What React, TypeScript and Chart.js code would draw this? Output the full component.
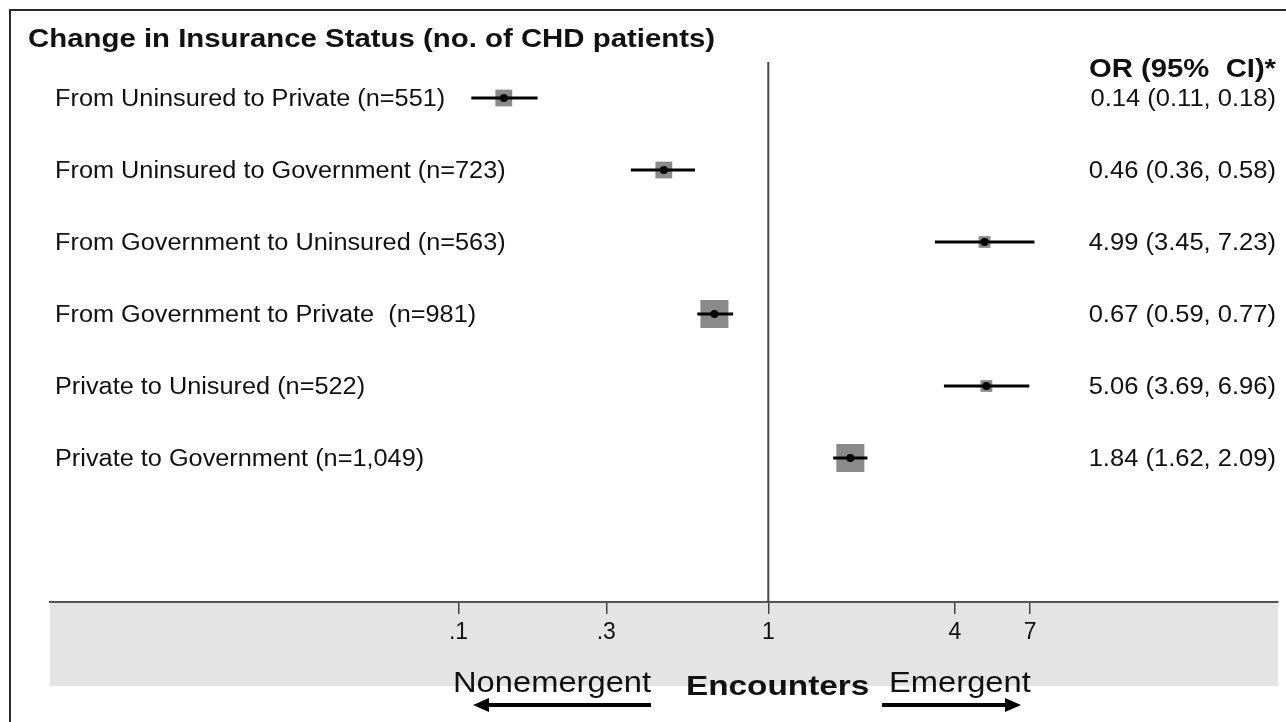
import React, { useEffect, useRef } from "react";
import { Chart, registerables } from "chart.js";

Chart.register(...registerables);

// ---------------- data ----------------
const categories = [
  "From Uninsured to Private (n=551)",
  "From Uninsured to Government (n=723)",
  "From Government to Uninsured (n=563)",
  "From Government to Private  (n=981)",
  "Private to Unisured (n=522)",
  "Private to Government (n=1,049)",
];
const oddsRatios = [0.14, 0.46, 4.99, 0.67, 5.06, 1.84];
const ciLower = [0.11, 0.36, 3.45, 0.59, 3.69, 1.62];
const ciUpper = [0.18, 0.58, 7.23, 0.77, 6.96, 2.09];
// relative weight of each estimate (drives the box size)
const boxWeights = [0.6, 0.6, 0.42, 1.0, 0.42, 1.0];
const orLabels = [
  "0.14 (0.11, 0.18)",
  "0.46 (0.36, 0.58)",
  "4.99 (3.45, 7.23)",
  "0.67 (0.59, 0.77)",
  "5.06 (3.69, 6.96)",
  "1.84 (1.62, 2.09)",
];
const xTickValues = [0.1, 0.3, 1, 4, 7];
const xTickLabels = [".1", ".3", "1", "4", "7"];
const titleText = "Change in Insurance Status (no. of CHD patients)";
const orHeader = "OR (95%  CI)*";
const leftDirection = "Nonemergent";
const centerCaption = "Encounters";
const rightDirection = "Emergent";

const X_MIN = 0.0048;
const X_MAX = 44.2;
const FONT = '"Liberation Sans", Arial, Helvetica, sans-serif';

function drawText(
  ctx: CanvasRenderingContext2D,
  text: string,
  x: number,
  y: number,
  font: string,
  align: CanvasTextAlign,
  sx = 1,
  color = "#111"
) {
  ctx.save();
  ctx.font = font;
  ctx.fillStyle = color;
  ctx.textBaseline = "middle";
  ctx.textAlign = align;
  ctx.translate(x, y);
  ctx.scale(sx, 1);
  ctx.fillText(text, 0, 0);
  ctx.restore();
}

const decorPlugin = {
  id: "forestDecor",
  beforeDraw(chart: any) {
    const { ctx, chartArea } = chart;
    ctx.save();
    ctx.fillStyle = "#ffffff";
    ctx.fillRect(0, 0, chart.width, chart.height);
    ctx.fillStyle = "#e4e4e4";
    ctx.fillRect(chartArea.left, chartArea.bottom, chartArea.right - chartArea.left, 84);
    ctx.restore();
  },
  beforeDatasetsDraw(chart: any) {
    const { ctx, chartArea, scales } = chart;
    const x1 = scales.x.getPixelForValue(1);
    ctx.save();
    ctx.strokeStyle = "#444";
    ctx.lineWidth = 2;
    ctx.beginPath();
    ctx.moveTo(x1, chartArea.top);
    ctx.lineTo(x1, chartArea.bottom);
    ctx.stroke();
    ctx.restore();
  },
  afterDraw(chart: any) {
    const { ctx, scales } = chart;
    // frame
    ctx.save();
    ctx.fillStyle = "#2a2a2a";
    ctx.fillRect(9, 9, 2, chart.height - 9);
    ctx.fillRect(9, 9, chart.width - 9, 2);
    ctx.restore();

    drawText(ctx, titleText, 28, 40, `bold 25px ${FONT}`, "left", 1.175);
    drawText(ctx, orHeader, 1276, 70, `bold 25px ${FONT}`, "right", 1.17);

    categories.forEach((c, i) => {
      const y = scales.y.getPixelForValue(i + 1) + 1.5;
      drawText(ctx, c, 55, y, `23px ${FONT}`, "left", 1.1);
      drawText(ctx, orLabels[i], 1276, y, `23px ${FONT}`, "right", 1.11);
    });

    // bottom captions
    drawText(ctx, leftDirection, 453, 684, `30px ${FONT}`, "left", 1.09);
    drawText(ctx, centerCaption, 686, 687, `bold 28px ${FONT}`, "left", 1.19);
    drawText(ctx, rightDirection, 889, 684, `30px ${FONT}`, "left", 1.09);

    // arrows
    const arrow = (from: number, to: number, y: number) => {
      const dir = Math.sign(to - from);
      ctx.save();
      ctx.strokeStyle = "#000";
      ctx.fillStyle = "#000";
      ctx.lineWidth = 4;
      ctx.beginPath();
      ctx.moveTo(from, y);
      ctx.lineTo(to - dir * 12, y);
      ctx.stroke();
      ctx.beginPath();
      ctx.moveTo(to, y);
      ctx.lineTo(to - dir * 16, y - 7);
      ctx.lineTo(to - dir * 16, y + 7);
      ctx.closePath();
      ctx.fill();
      ctx.restore();
    };
    arrow(651, 473, 705);
    arrow(882, 1021, 705);
  },
};

export default function App() {
  const ref = useRef<HTMLCanvasElement | null>(null);

  useEffect(() => {
    if (!ref.current) return;
    const rows = categories.map((_, i) => i + 1);

    const ciDatasets = rows.map((y, i) => ({
      type: "line" as const,
      data: [
        { x: ciLower[i], y },
        { x: ciUpper[i], y },
      ],
      borderColor: "#000",
      borderWidth: 3,
      pointRadius: 0,
      order: 2,
    }));

    const chart = new Chart(ref.current, {
      type: "scatter",
      data: {
        datasets: [
          {
            type: "scatter",
            data: oddsRatios.map((v, i) => ({ x: v, y: rows[i] })),
            pointStyle: "rect",
            pointRadius: boxWeights.map((w) => w * 19.8),
            backgroundColor: "#8a8a8a",
            borderWidth: 0,
            order: 3,
          } as any,
          ...ciDatasets,
          {
            type: "scatter",
            data: oddsRatios.map((v, i) => ({ x: v, y: rows[i] })),
            pointStyle: "circle",
            pointRadius: 4,
            backgroundColor: "#000",
            borderWidth: 0,
            order: 1,
          } as any,
        ],
      },
      options: {
        animation: false,
        responsive: true,
        maintainAspectRatio: false,
        layout: { autoPadding: false, padding: { left: 50, right: 8, top: 62, bottom: 0 } },
        plugins: { legend: { display: false }, tooltip: { enabled: false } },
        events: [],
        scales: {
          x: {
            type: "logarithmic",
            min: X_MIN,
            max: X_MAX,
            afterBuildTicks: (scale: any) => {
              scale.ticks = xTickValues.map((v) => ({ value: v }));
            },
            afterFit: (scale: any) => {
              scale.height = 120;
              scale.paddingLeft = 0;
              scale.paddingRight = 0;
            },
            border: { display: true, color: "#555", width: 2 },
            grid: {
              display: true,
              drawOnChartArea: false,
              drawTicks: true,
              tickLength: 12,
              color: "#444",
              lineWidth: 1.5,
            },
            ticks: {
              autoSkip: false,
              maxRotation: 0,
              padding: 5,
              color: "#111",
              font: { family: FONT, size: 23 },
              callback: (value: any) => {
                const idx = xTickValues.indexOf(Number(value));
                return idx >= 0 ? xTickLabels[idx] : "";
              },
            },
          },
          y: {
            type: "linear",
            min: 0.5,
            max: 8,
            reverse: true,
            display: false,
          },
        },
      },
      plugins: [decorPlugin],
    } as any);

    return () => chart.destroy();
  }, []);

  return (
    <div style={{ position: "fixed", left: 0, top: 0, width: 1286, height: 722 }}>
      <canvas ref={ref} />
    </div>
  );
}
